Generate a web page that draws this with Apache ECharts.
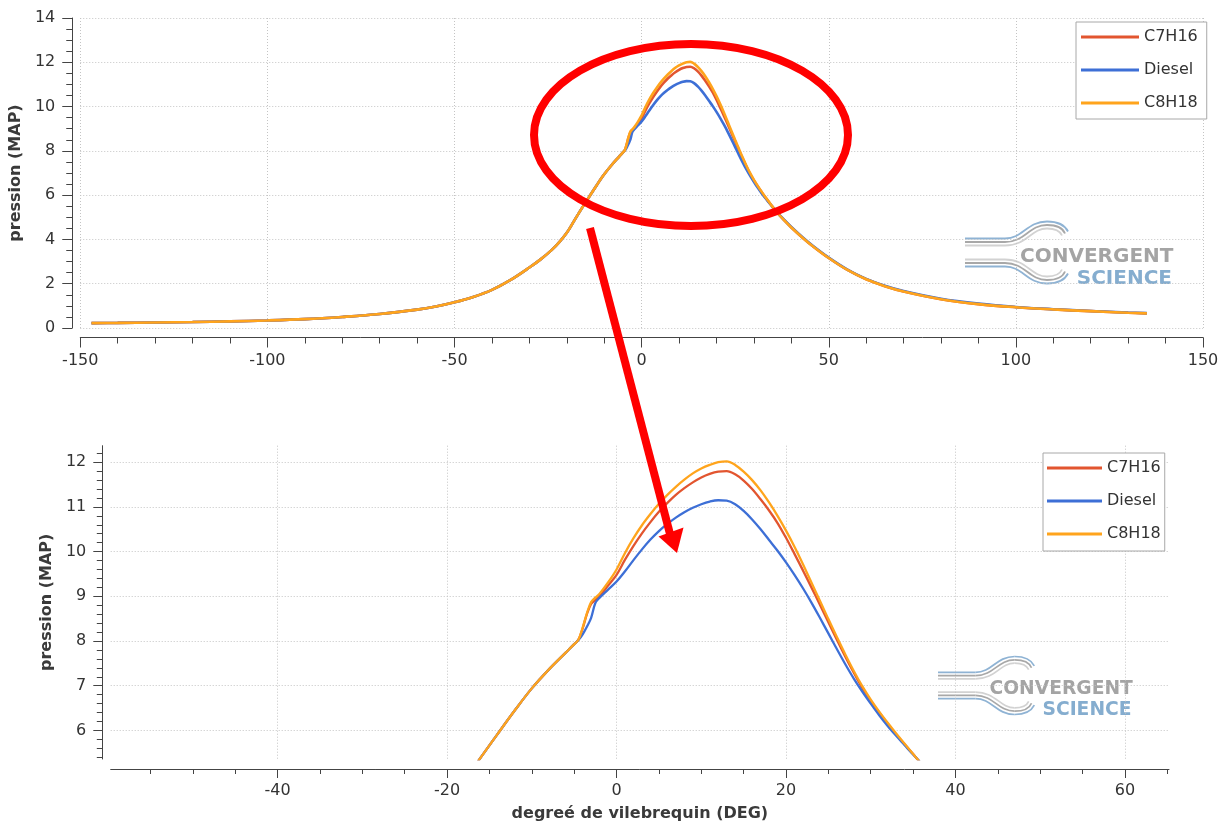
<!DOCTYPE html>
<html>
<head>
<meta charset="utf-8">
<script src="https://cdn.jsdelivr.net/npm/echarts@6/dist/echarts.min.js"></script>
<style>html,body{margin:0;padding:0;background:#fff;}#chart{width:1222px;height:827px;}</style>
</head>
<body>
<div id="chart"></div>
<script>
// ---- data (crank angle in degrees, pressure in MPa) ----
const crankAngle = [-147,-140,-130,-120,-110,-100,-90,-80,-70,-60,-55,-50,-45,-40,-35,-30,-27,-24,-22,-20,-18,-16,-14,-12,-10,-8,-6,-5,-4.5,
  -4,-3.5,-3,-2.5,-2,-1,
  0,1,2,3,4,5,6,7,8,9,10,11,12,13,
  14,15,16,17,18,19,20,21,22,23,24,25,26,27,28,29,30,
  31,32,33,34,35,36,
  38,40,43,46,50,55,60,65,70,80,90,100,110,120,130,135];
const c7h16 = [0.22,0.23,0.25,0.27,0.30,0.34,0.40,0.50,0.63,0.83,0.97,1.16,1.40,1.72,2.17,2.73,3.10,3.53,3.88,4.30,4.85,5.40,5.93,6.45,6.94,7.36,7.74,7.93,8.03,
  8.28,8.60,8.83,8.92,9.00,9.24,
  9.48,9.82,10.13,10.41,10.66,10.89,11.09,11.27,11.42,11.55,11.66,11.74,11.79,11.80,
  11.73,11.59,11.40,11.17,10.92,10.64,10.31,9.95,9.58,9.20,8.81,8.42,8.03,7.65,7.29,6.95,6.66,
  6.40,6.15,5.91,5.69,5.47,5.25,
  4.88,4.54,4.08,3.66,3.16,2.62,2.20,1.89,1.65,1.30,1.08,0.94,0.84,0.76,0.69,0.66];
const diesel = [0.22,0.23,0.25,0.27,0.30,0.34,0.40,0.50,0.63,0.83,0.97,1.16,1.40,1.72,2.17,2.73,3.10,3.53,3.88,4.30,4.85,5.40,5.93,6.45,6.94,7.36,7.74,7.93,8.02,
  8.15,8.32,8.52,8.85,8.97,9.15,
  9.33,9.56,9.81,10.05,10.27,10.46,10.62,10.76,10.88,10.98,11.06,11.12,11.15,11.14,
  11.06,10.91,10.72,10.50,10.26,10.02,9.76,9.48,9.18,8.86,8.52,8.17,7.82,7.48,7.16,6.87,6.60,
  6.34,6.10,5.88,5.67,5.46,5.26,
  4.90,4.56,4.10,3.68,3.18,2.64,2.22,1.91,1.67,1.32,1.10,0.95,0.85,0.77,0.70,0.67];
const c8h18 = [0.22,0.23,0.25,0.27,0.30,0.34,0.40,0.50,0.63,0.83,0.97,1.16,1.40,1.72,2.17,2.73,3.10,3.53,3.88,4.30,4.85,5.40,5.93,6.45,6.94,7.36,7.74,7.93,8.03,
  8.30,8.62,8.87,8.97,9.06,9.31,
  9.60,9.97,10.30,10.59,10.84,11.07,11.27,11.45,11.61,11.75,11.86,11.94,12.00,12.02,
  11.94,11.79,11.60,11.37,11.10,10.80,10.47,10.11,9.72,9.31,8.90,8.49,8.09,7.70,7.33,6.99,6.69,
  6.42,6.17,5.93,5.70,5.47,5.25,
  4.88,4.54,4.08,3.66,3.16,2.62,2.20,1.89,1.65,1.30,1.08,0.94,0.84,0.76,0.69,0.66];
const seriesNames = ['C7H16', 'Diesel', 'C8H18'];
const seriesValues = [c7h16, diesel, c8h18];
const seriesColors = ['#e2552f', '#3d6fd6', '#ffa41c'];

// tick labels
const bottomXTicks = [-40, -20, 0, 20, 40, 60];
const bottomYTicks = [6, 7, 8, 9, 10, 11, 12];

const bottomXMinor = [];
for (let v = -55; v <= 65; v += 5) { if (v % 20 !== 0) bottomXMinor.push(v); }
const bottomYMinor = [];
for (let i = 27; i <= 61; i++) { if (i % 5 !== 0) bottomYMinor.push(Math.round(i * 2) / 10); }

const FONT = 'DejaVu Sans';
const labelStyle = { color: '#333', fontSize: 16, fontFamily: FONT };
const nameStyle = { color: '#3a3a3a', fontSize: 16, fontWeight: 'bold', fontFamily: FONT };
const axisLine = { show: true, onZero: false, lineStyle: { color: '#444', width: 1 } };
const gridLine = { show: true, lineStyle: { color: '#c4c4c4', width: 1, type: [1, 2] } };

function pairs(vals) { return crankAngle.map((x, i) => [x, vals[i]]); }

const series = [];
[0, 1].forEach(g => {
  seriesNames.forEach((n, k) => {
    series.push({
      name: n, type: 'line', xAxisIndex: g, yAxisIndex: g,
      data: pairs(seriesValues[k]), showSymbol: false, symbol: 'none',
      smooth: 0.35, clip: true,
      lineStyle: { color: seriesColors[k], width: g === 0 ? 2.6 : 2.3 },
      itemStyle: { color: seriesColors[k] }
    });
  });
});

// logo swoosh: [y of straight part, [cp1x,cp1y,cp2x,cp2y,x,y], [cp1x,cp1y,cp2x,cp2y,x,y]]
function logo(x, y, s) {
  const blue = '#8fb3d4', gray = '#a8a8a8', light = '#d2d2d2';
  const strokes = [
    [-14, [58, -14, 62, -31, 82, -31], [93, -31, 100, -27, 103, -21], blue],
    [-10.5, [60, -10.5, 64, -27.5, 82, -27.5], [92, -27.5, 98, -24, 100, -19], gray],
    [-7, [62, -7, 66, -24, 82, -24], [90, -24, 95, -21.5, 97, -17], light]
  ];
  const children = [];
  [1, -1].forEach(sg => {
    strokes.forEach(p => {
      const st = { fill: 'none', stroke: p[3], lineWidth: 1.8 };
      const y0 = p[0] * sg, a = p[1], b = p[2];
      children.push({ type: 'line', shape: { x1: 0, y1: y0, x2: 40, y2: y0 }, style: st });
      children.push({ type: 'bezierCurve', shape: { x1: 40, y1: y0, cpx1: a[0], cpy1: a[1] * sg, cpx2: a[2], cpy2: a[3] * sg, x2: a[4], y2: a[5] * sg }, style: st });
      children.push({ type: 'bezierCurve', shape: { x1: a[4], y1: a[5] * sg, cpx1: b[0], cpy1: b[1] * sg, cpx2: b[2], cpy2: b[3] * sg, x2: b[4], y2: b[5] * sg }, style: st });
    });
  });
  children.push({ type: 'text', style: { text: 'CONVERGENT', x: 55, y: 4.4, fill: '#a4a4a4', font: 'bold 20px "DejaVu Sans"', align: 'left', verticalAlign: 'middle' } });
  children.push({ type: 'text', style: { text: 'SCIENCE', x: 207, y: 25.9, fill: '#85adcf', font: 'bold 20px "DejaVu Sans"', align: 'right', verticalAlign: 'middle' } });
  return { type: 'group', x: x, y: y, scaleX: s, scaleY: s, z: 50, silent: true, children: children };
}

const legendCommon = {
  orient: 'vertical', icon: 'rect', itemHeight: 3, itemGap: 15,
  borderColor: '#a8a8a8', borderWidth: 1, backgroundColor: '#fff',
  textStyle: { fontSize: 16, color: '#333', fontFamily: FONT, lineHeight: 18 },
  data: seriesNames, selectedMode: false
};

const option = {
  animation: false,
  backgroundColor: '#fff',
  textStyle: { fontFamily: FONT },
  grid: [
    { left: 77, right: 19, top: 18, bottom: 499 },
    { left: 110.7, right: 53, top: 445.7, bottom: 68 }
  ],
  legend: [
    Object.assign({}, legendCommon, { left: 1076, top: 22, itemWidth: 58, padding: [6, 9, 7, 5] }),
    Object.assign({}, legendCommon, { left: 1043, top: 453, itemWidth: 55, padding: [6, 4, 8, 4] })
  ],
  xAxis: [
    { type: 'value', gridIndex: 0, min: -150, max: 150, interval: 50, offset: 9.5,
      axisLine: axisLine, axisTick: { show: true, length: 10, lineStyle: { color: '#444' } },
      minorTick: { show: true, splitNumber: 5, length: 6, lineStyle: { color: '#444' } },
      axisLabel: Object.assign({ margin: 15 }, labelStyle), splitLine: gridLine },
    { type: 'value', gridIndex: 1, position: 'bottom', min: -59.7, max: 65.2, offset: 10,
      name: 'degreé de vilebrequin (DEG)', nameLocation: 'middle', nameGap: 37, nameTextStyle: nameStyle,
      axisLine: axisLine,
      axisTick: { show: true, length: 9, customValues: bottomXTicks, lineStyle: { color: '#444' } },
      axisLabel: Object.assign({ margin: 14, customValues: bottomXTicks }, labelStyle), splitLine: gridLine },
    { type: 'value', gridIndex: 1, position: 'bottom', min: -59.7, max: 65.2, offset: 10,
      axisLine: { show: false, onZero: false },
      axisTick: { show: true, length: 5, customValues: bottomXMinor, lineStyle: { color: '#444' } },
      axisLabel: { show: false }, splitLine: { show: false } }
  ],
  yAxis: [
    { type: 'value', gridIndex: 0, min: 0, max: 14, interval: 2, offset: 8,
      name: 'pression (MAP)', nameLocation: 'middle', nameGap: 40, nameTextStyle: nameStyle,
      axisLine: axisLine, axisTick: { show: true, length: 10, lineStyle: { color: '#444' } },
      minorTick: { show: true, splitNumber: 4, length: 6, lineStyle: { color: '#444' } },
      axisLabel: Object.assign({ margin: 17 }, labelStyle), splitLine: gridLine },
    { type: 'value', gridIndex: 1, position: 'left', min: 5.36, max: 12.37, offset: 8.4,
      name: 'pression (MAP)', nameLocation: 'middle', nameGap: 37, nameTextStyle: nameStyle,
      axisLine: axisLine,
      axisTick: { show: true, length: 9, customValues: bottomYTicks, lineStyle: { color: '#444' } },
      axisLabel: Object.assign({ margin: 16, customValues: bottomYTicks }, labelStyle), splitLine: gridLine },
    { type: 'value', gridIndex: 1, position: 'left', min: 5.36, max: 12.37, offset: 8.4,
      axisLine: { show: false, onZero: false },
      axisTick: { show: true, length: 5.5, customValues: bottomYMinor, lineStyle: { color: '#444' } },
      axisLabel: { show: false }, splitLine: { show: false } }
  ],
  series: series,
  graphic: [
    logo(965, 252.5, 1),
    logo(938, 685.5, 0.935),
    { type: 'ellipse', z: 100, silent: true, shape: { cx: 691, cy: 135, rx: 157, ry: 91 },
      style: { fill: 'none', stroke: '#ff0000', lineWidth: 8 } },
    { type: 'line', z: 100, silent: true, shape: { x1: 590, y1: 228, x2: 670, y2: 534 },
      style: { stroke: '#ff0000', lineWidth: 8 } },
    { type: 'polygon', z: 100, silent: true, shape: { points: [[658.5, 536.5], [683.5, 527.5], [677, 553]] },
      style: { fill: '#ff0000' } }
  ]
};

const chart = echarts.init(document.getElementById('chart'), null, { renderer: 'canvas' });
chart.setOption(option);
</script>
</body>
</html>
